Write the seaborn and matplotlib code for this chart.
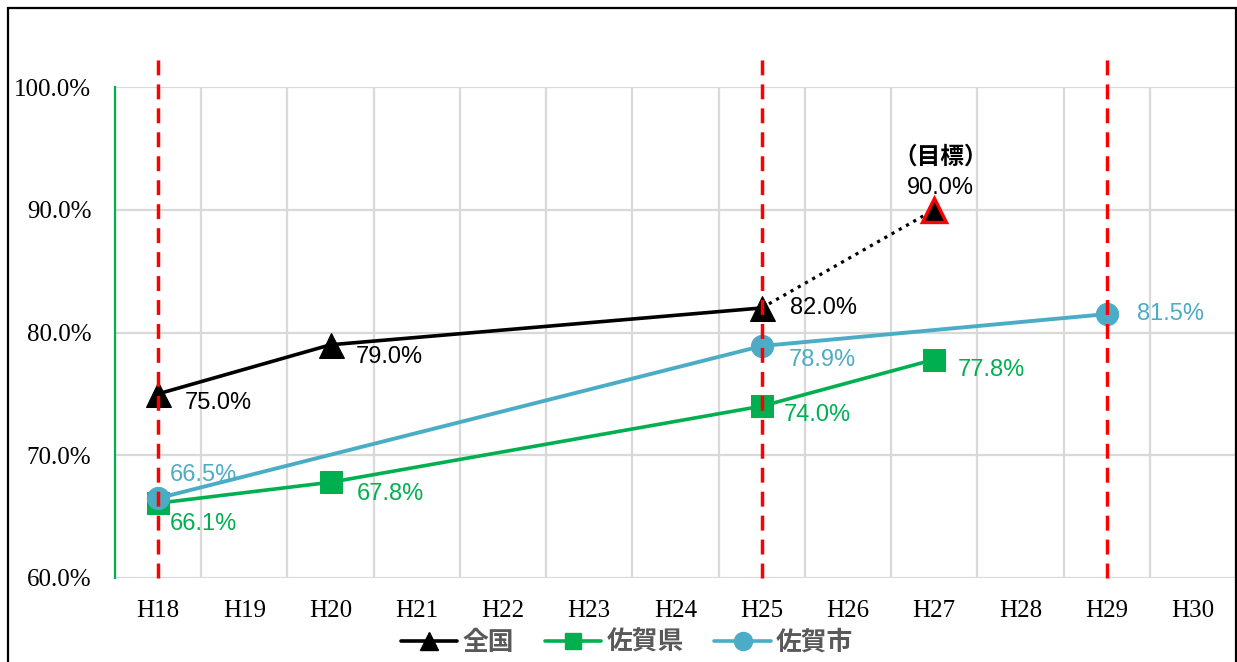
import matplotlib
matplotlib.use("Agg")
import matplotlib.pyplot as plt
from matplotlib import font_manager
from matplotlib.patches import Rectangle
from matplotlib.lines import Line2D
from matplotlib.ticker import FuncFormatter, FixedLocator
import seaborn as sns
import pandas as pd

# ---- data -------------------------------------------------------------
categories = ["H18", "H19", "H20", "H21", "H22", "H23", "H24",
              "H25", "H26", "H27", "H28", "H29", "H30"]

national_years = ["H18", "H20", "H25"]
national_vals = [75.0, 79.0, 82.0]
target_year = "H27"
target_val = 90.0
target_caption = "（目標）"

pref_years = ["H18", "H20", "H25", "H27"]
pref_vals = [66.1, 67.8, 74.0, 77.8]

city_years = ["H18", "H25", "H29"]
city_vals = [66.5, 78.9, 81.5]

survey_years = ["H18", "H25", "H29"]

series_names = ["全国", "佐賀県", "佐賀市"]

# label offsets in pixels (right, down) from each point
national_off = [(27, 9), (25, 12), (28, 0)]
pref_off = [(12, 21), (26, 12), (22, 9), (24, 10)]
city_off = [(12, -23), (27, 14), (30, 0)]

# ---- style ------------------------------------------------------------
sns.set_theme(style="white")
names = {f.name for f in font_manager.fontManager.ttflist}
narrow = "Liberation Sans Narrow" if "Liberation Sans Narrow" in names else "Liberation Sans"
label_size = 19 if narrow == "Liberation Sans Narrow" else 17
serif = "Liberation Serif"
cjk = ["Noto Sans CJK JP", "DejaVu Sans"]
plt.rcParams["font.family"] = cjk

BLACK = "#000000"
GREEN = "#00B050"
BLUE = "#4BACC6"
RED = "#FF0000"
GRID = "#D9D9D9"

W, H = 1237, 662
fig = plt.figure(figsize=(W / 100, H / 100), dpi=100)
ax = fig.add_axes([115 / W, 1 - 578 / H, (1236 - 115) / W, (578 - 87) / H])

pos = {c: i for i, c in enumerate(categories)}


def frame(years, vals):
    return pd.DataFrame({"x": [pos[y] for y in years], "v": vals})


d_nat = frame(national_years, national_vals)
d_pref = frame(pref_years, pref_vals)
d_city = frame(city_years, city_vals)
d_target = frame([national_years[-1], target_year], [national_vals[-1], target_val])

# dotted path toward the target
sns.lineplot(data=d_target, x="x", y="v", ax=ax, color=BLACK, lw=2.3,
             linestyle=(0, (1, 1.6)), zorder=3)
sns.lineplot(data=frame([target_year], [target_val]), x="x", y="v", ax=ax,
             marker="^", markersize=17, color=BLACK, markerfacecolor=BLACK,
             markeredgecolor=RED, markeredgewidth=2.4, linestyle="none", zorder=5)

sns.lineplot(data=d_nat, x="x", y="v", ax=ax, color=BLACK, lw=2.6,
             marker="^", markersize=18, markeredgecolor=BLACK, zorder=4)
sns.lineplot(data=d_pref, x="x", y="v", ax=ax, color=GREEN, lw=2.6,
             marker="s", markersize=16, markeredgecolor=GREEN, zorder=4)
sns.lineplot(data=d_city, x="x", y="v", ax=ax, color=BLUE, lw=2.8,
             marker="o", markersize=16, markeredgecolor=BLUE, zorder=4)

# survey-year markers (red dashed verticals)
for y in survey_years:
    ax.plot([pos[y], pos[y]], [60, 102.6], color=RED, lw=2.5,
            linestyle=(0, (4.3, 2.6)), clip_on=False, zorder=6)

# ---- value labels -----------------------------------------------------
def put_labels(df, offs, color):
    for (x, v), (dx, dy) in zip(zip(df["x"], df["v"]), offs):
        ax.annotate(f"{v:.1f}%", (x, v), xytext=(dx * 0.72, -dy * 0.72),
                    textcoords="offset points", ha="left", va="center",
                    fontsize=label_size, color=color, family=narrow, zorder=7)


put_labels(d_nat, national_off, BLACK)
put_labels(d_pref, pref_off, GREEN)
put_labels(d_city, city_off, BLUE)

ax.annotate(f"{target_val:.1f}%", (pos[target_year], target_val),
            xytext=(6 * 0.72, 22 * 0.72), textcoords="offset points",
            ha="center", va="center", fontsize=label_size, color=BLACK, family=narrow)
ax.annotate(target_caption, (pos[target_year], target_val),
            xytext=(6 * 0.72, 53 * 0.72), textcoords="offset points",
            ha="center", va="center", fontsize=17, color=BLACK,
            fontweight="bold", family=cjk)

# ---- axes -------------------------------------------------------------
ax.set_xlim(-0.5, len(categories) - 0.5)
ax.set_ylim(60, 100)
ax.set_xticks(range(len(categories)))
ax.set_xticklabels(categories)
ax.xaxis.set_minor_locator(FixedLocator([i + 0.5 for i in range(-1, len(categories))]))
ax.set_yticks([60, 70, 80, 90, 100])
ax.yaxis.set_major_formatter(FuncFormatter(lambda v, _: f"{v:.1f}%"))
ax.set_xlabel("")
ax.set_ylabel("")

ax.grid(False)
ax.grid(True, axis="y", which="major", color=GRID, lw=1.6, zorder=0)
ax.grid(True, axis="x", which="minor", color=GRID, lw=1.6, zorder=0)
ax.tick_params(axis="both", which="both", length=0)
ax.tick_params(axis="x", pad=16)
ax.tick_params(axis="y", pad=17)
for lab in ax.get_xticklabels() + ax.get_yticklabels():
    lab.set_family(serif)
    lab.set_fontsize(18)
    lab.set_color("#000000")

for s in ["top", "right", "bottom"]:
    ax.spines[s].set_visible(False)
ax.spines["left"].set_color(GREEN)
ax.spines["left"].set_linewidth(1.6)
ax.set_axisbelow(True)

# ---- legend -----------------------------------------------------------
handles = [
    Line2D([], [], color=BLACK, lw=2.6, marker="^", markersize=13),
    Line2D([], [], color=GREEN, lw=2.6, marker="s", markersize=12),
    Line2D([], [], color=BLUE, lw=2.6, marker="o", markersize=13),
]
leg = fig.legend(handles, series_names, loc="center", bbox_to_anchor=(627 / W, 1 - 642 / H),
                 ncol=3, frameon=False, handlelength=2.2, handletextpad=0.2,
                 columnspacing=1.2, prop={"family": cjk, "size": 18.5, "weight": "bold"})
for t in leg.get_texts():
    t.set_color("#595959")

# outer frame
fig.patches.append(Rectangle((8 / W, -0.1), (1236 - 8) / W, (654 / H) + 0.1,
                             transform=fig.transFigure, fill=False,
                             edgecolor="#000000", lw=1.6, zorder=10))

fig.savefig("out.png", dpi=100)
